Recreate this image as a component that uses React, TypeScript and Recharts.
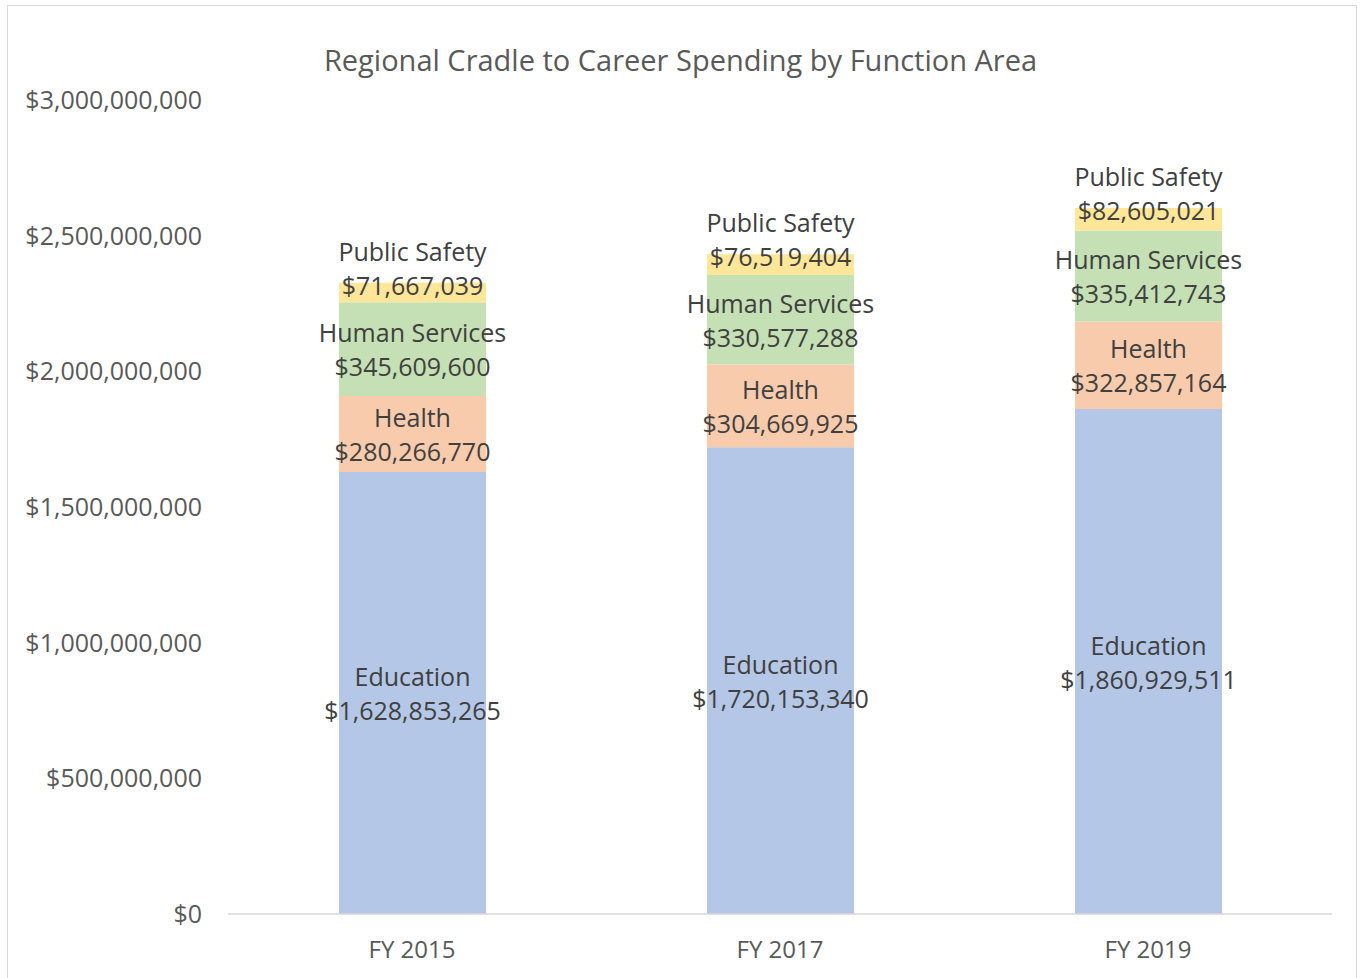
import React from "react";
import { BarChart, Bar, XAxis, YAxis, LabelList } from "recharts";

const categories = ["FY 2015", "FY 2017", "FY 2019"];
const education = [1628853265, 1720153340, 1860929511];
const health = [280266770, 304669925, 322857164];
const humanServices = [345609600, 330577288, 335412743];
const publicSafety = [71667039, 76519404, 82605021];
const yTicks = [0, 500000000, 1000000000, 1500000000, 2000000000, 2500000000, 3000000000];

const data = categories.map((c, i) => ({
  name: c,
  education: education[i],
  health: health[i],
  humanServices: humanServices[i],
  publicSafety: publicSafety[i],
}));

const money = (v: number) => "$" + Number(v).toLocaleString("en-US");
const FONT = "'Open Sans', sans-serif";
const LABEL_COLOR = "#404040";

const makeLabel = (title: string, top: boolean) => (props: any) => {
  const { x, y, width, height, value } = props;
  const cx = x + width / 2;
  let nameY: number;
  let valY: number;
  if (top) {
    valY = y + 2;
    nameY = valY - 34;
  } else {
    const cy = y + height / 2;
    nameY = cy - 17;
    valY = cy + 17;
  }
  return (
    <g>
      <text x={cx} y={nameY} textAnchor="middle" dominantBaseline="central" fill={LABEL_COLOR} fontSize={25} fontFamily={FONT}>
        {title}
      </text>
      <text x={cx} y={valY} textAnchor="middle" dominantBaseline="central" fill={LABEL_COLOR} fontSize={25} fontFamily={FONT}>
        {money(value)}
      </text>
    </g>
  );
};

export default function App() {
  return (
    <div style={{ position: "absolute", left: 0, top: 0, width: 1361, height: 978, background: "#fff", overflow: "hidden" }}>
      <div style={{ position: "absolute", left: 7, top: 5, width: 1350, height: 1000, border: "1.5px solid #D9D9D9", boxSizing: "border-box" }} />
      <div style={{ position: "absolute", left: 0, top: 41, width: 1361, textAlign: "center", fontFamily: FONT, fontSize: 29, color: "#595959", lineHeight: "38px" }}>
        Regional Cradle to Career Spending by Function Area
      </div>
      <div style={{ position: "absolute", left: 0, top: 0 }}>
        <BarChart width={1361} height={978} data={data} margin={{ top: 100, right: 29, bottom: 0, left: 0 }} barSize={147}>
          <XAxis
            dataKey="name"
            height={64}
            axisLine={{ stroke: "#D9D9D9", strokeWidth: 1.5 }}
            tickLine={false}
            tickSize={6}
            tickMargin={21}
            tick={{ fill: "#595959", fontSize: 24, fontFamily: FONT }}
          />
          <YAxis
            width={228}
            domain={[0, 3000000000]}
            ticks={yTicks}
            axisLine={false}
            tickLine={false}
            tickSize={6}
            tickMargin={20}
            tickFormatter={money}
            tick={{ fill: "#595959", fontSize: 25, fontFamily: FONT }}
          />
          <Bar dataKey="education" stackId="a" fill="#B4C7E7" isAnimationActive={false}>
            <LabelList dataKey="education" content={makeLabel("Education", false)} />
          </Bar>
          <Bar dataKey="health" stackId="a" fill="#F8CBAD" isAnimationActive={false}>
            <LabelList dataKey="health" content={makeLabel("Health", false)} />
          </Bar>
          <Bar dataKey="humanServices" stackId="a" fill="#C5E0B4" isAnimationActive={false}>
            <LabelList dataKey="humanServices" content={makeLabel("Human Services", false)} />
          </Bar>
          <Bar dataKey="publicSafety" stackId="a" fill="#FFE699" isAnimationActive={false}>
            <LabelList dataKey="publicSafety" content={makeLabel("Public Safety", true)} />
          </Bar>
        </BarChart>
      </div>
    </div>
  );
}
